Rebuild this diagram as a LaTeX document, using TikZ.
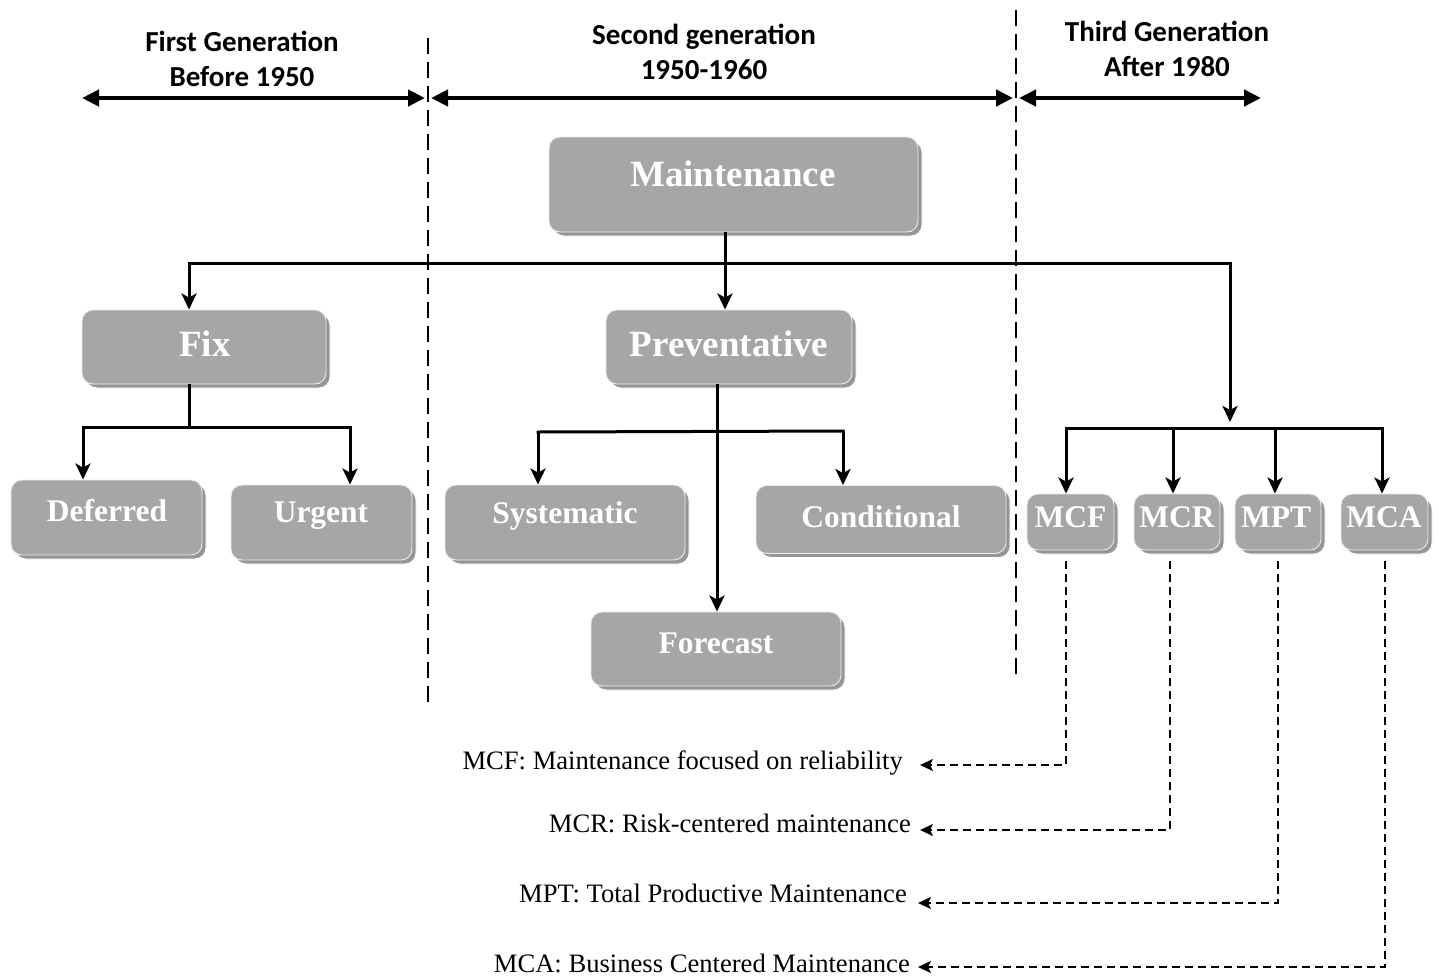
\documentclass[tikz,border=0pt]{standalone}
\usepackage{fontspec}
\setmainfont{Liberation Serif}
\newfontfamily\hdrfont{Carlito}
\usetikzlibrary{arrows.meta,shadows}
\definecolor{boxgray}{HTML}{A6A6A6}
\definecolor{shgray}{HTML}{969696}
\begin{document}
\begin{tikzpicture}[x=1pt,y=-1pt,
  gbox/.style={rectangle, rounded corners=11pt, fill=boxgray, draw=white!92!black, line width=0.9pt, inner sep=0pt,
    drop shadow={shadow xshift=4pt, shadow yshift=-4pt, fill=shgray, opacity=1, draw=white, line width=0.9pt}},
  bigtxt/.style={text=white, font=\fontsize{37}{40}\selectfont\bfseries, inner sep=0pt},
  smtxt/.style={text=white, font=\fontsize{31.5}{34}\selectfont\bfseries, inner sep=0pt},
  hdr/.style={align=center, font=\hdrfont\fontsize{29}{35}\selectfont\bfseries, inner sep=0pt},
  legtxt/.style={anchor=east, font=\fontsize{26.6}{30}\selectfont, inner sep=0pt},
  conn/.style={line width=3pt},
  arr/.style={line width=3pt, -{Stealth[length=16pt,width=15pt,inset=4pt]}},
  harr/.style={line width=4.2pt, {Triangle[length=17pt,width=16pt]}-{Triangle[length=17pt,width=16pt]}},
  sep/.style={line width=2.5pt, dash pattern=on 16pt off 8pt},
  legarr/.style={line width=2pt, dash pattern=on 8pt off 5pt, -{Stealth[length=13pt,width=12pt,inset=3pt]}}
]
\useasboundingbox (0,0) rectangle (1439,977);

% separators
\coordinate (d1t) at (428,38); \coordinate (d1b) at (428,702);
\coordinate (d2t) at (1016,10); \coordinate (d2b) at (1016,676);
\draw[sep] (d1t) -- (d1b);
\draw[sep] (d2t) -- (d2b);

% header arrows
\coordinate (h1a) at (82,98); \coordinate (h1b) at (425,98);
\coordinate (h2a) at (431,98); \coordinate (h2b) at (1013,98);
\coordinate (h3a) at (1019,98); \coordinate (h3b) at (1261,98);
\draw[harr] (h1a) -- (h1b);
\draw[harr] (h2a) -- (h2b);
\draw[harr] (h3a) -- (h3b);
\node[hdr] (g1) at (242,59) {First Generation\\Before 1950};
\node[hdr] (g2) at (704,52) {Second generation\\1950-1960};
\node[hdr] (g3) at (1167,49) {Third Generation\\After 1980};

% boxes
\node[gbox, minimum width=369pt, minimum height=95pt] (maint) at (733.5,184.5) {};
\node[bigtxt] (maintT) at (733,174) {Maintenance};
\node[gbox, minimum width=244pt, minimum height=74pt] (fix) at (204,347) {};
\node[bigtxt] (fixT) at (205,344) {Fix};
\node[gbox, minimum width=246pt, minimum height=74pt] (prev) at (729,347) {};
\node[bigtxt] (prevT) at (729,344) {Preventative};
\node[gbox, minimum width=191pt, minimum height=75pt] (def) at (106.5,517.5) {};
\node[smtxt] (defT) at (107,511) {Deferred};
\node[gbox, minimum width=181pt, minimum height=75pt] (urg) at (321.5,522.5) {};
\node[smtxt] (urgT) at (321,516) {Urgent};
\node[gbox, minimum width=240pt, minimum height=75pt] (sys) at (565,522.5) {};
\node[smtxt] (sysT) at (565,516) {Systematic};
\node[gbox, minimum width=250pt, minimum height=68pt] (cond) at (881,519.5) {};
\node[smtxt] (condT) at (881,517) {Conditional};
\node[gbox, minimum width=250pt, minimum height=74pt] (fore) at (716,649) {};
\node[smtxt] (foreT) at (716,643) {Forecast};
\node[gbox, minimum width=87pt, minimum height=56pt] (mcf) at (1070.5,522) {};
\node[smtxt] (mcfT) at (1070.5,517) {MCF};
\node[gbox, minimum width=86pt, minimum height=56pt] (mcr) at (1177,522) {};
\node[smtxt] (mcrT) at (1177,517) {MCR};
\node[gbox, minimum width=86pt, minimum height=56pt] (mpt) at (1278,522) {};
\node[smtxt] (mptT) at (1276,517) {MPT};
\node[gbox, minimum width=87pt, minimum height=56pt] (mca) at (1384.5,522) {};
\node[smtxt] (mcaT) at (1384,517) {MCA};

% main tree
\coordinate (jm) at (725,263);
\coordinate (jl) at (189,263);
\coordinate (jr) at (1230,263);
\draw[conn] (maint.south -| jm) -- (jm);
\draw[conn, line cap=rect] (jl) -- (jr);
\draw[arr] (jl) -- (fix.north -| jl);
\draw[arr] (jm) -- (prev.north -| jm);
\coordinate (jr2) at (1230,422);
\draw[arr] (jr) -- (jr2);

% third generation
\coordinate (t1) at (1066,428); \coordinate (t4) at (1382,428);
\coordinate (t2) at (1173,428); \coordinate (t3) at (1275,428);
\draw[conn, line cap=rect] (t1) -- (t4);
\draw[arr] (t1) -- (mcf.north -| t1);
\draw[arr] (t2) -- (mcr.north -| t2);
\draw[arr] (t3) -- (mpt.north -| t3);
\draw[arr] (t4) -- (mca.north -| t4);

% fix subtree
\coordinate (fj) at (189,427);
\coordinate (fl) at (83,427); \coordinate (fr) at (350,427);
\draw[conn] (fix.south -| fj) -- (fj);
\draw[conn, line cap=rect] (fl) -- (fr);
\draw[arr] (fl) -- (def.north -| fl);
\draw[arr] (fr) -- (urg.north -| fr);

% preventative subtree
\coordinate (pv) at (717,384);
\coordinate (pl) at (538,432); \coordinate (pr) at (843,431);
\draw[arr] (prev.south -| pv) -- (fore.north -| pv);
\draw[conn, line cap=rect] (pl) -- (pr);
\draw[arr] (pl) -- (sys.north -| pl);
\draw[arr] (pr) -- (cond.north -| pr);

% legend
\node[legtxt] (l1) at (903,763) {MCF: Maintenance focused on reliability};
\node[legtxt] (l2) at (911,823) {MCR: Risk-centered maintenance};
\node[legtxt] (l3) at (907,893) {MPT: Total Productive Maintenance};
\node[legtxt] (l4) at (910,963) {MCA: Business Centered Maintenance};
\coordinate (s1) at (1066,561); \coordinate (s2) at (1170,561);
\coordinate (s3) at (1278,561); \coordinate (s4) at (1385,561);
\draw[legarr] (s1) |- ([xshift=17pt,yshift=-2pt]l1.east);
\draw[legarr] (s2) |- ([xshift=9pt,yshift=-7pt]l2.east);
\draw[legarr] (s3) |- ([xshift=11pt,yshift=-10pt]l3.east);
\draw[legarr] (s4) |- ([xshift=8pt,yshift=-4pt]l4.east);
\end{tikzpicture}
\end{document}
